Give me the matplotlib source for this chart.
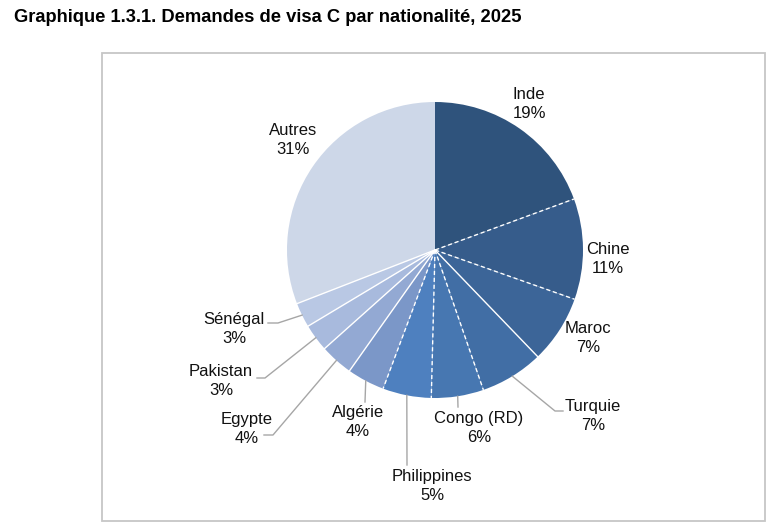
import matplotlib
matplotlib.use("Agg")
import matplotlib.pyplot as plt
import numpy as np
from matplotlib.patches import Rectangle

plt.rcParams['font.family'] = ['Liberation Sans', 'DejaVu Sans']

# data, clockwise from 12 o'clock
countries = ['Inde', 'Chine', 'Maroc', 'Turquie', 'Congo (RD)', 'Philippines',
             'Algérie', 'Egypte', 'Pakistan', 'Sénégal', 'Autres']
shares = [19.4, 11.0, 7.4, 6.9, 5.7, 5.3, 4.1, 3.6, 3.0, 2.7, 30.9]
colors = ['#2f537c', '#365c8b', '#3c6598', '#416ea5', '#4777b1', '#4e80bf',
          '#7b97c8', '#93a9d3', '#a8badd', '#b9c8e4', '#cdd7e8']

# white separators after each slice: '--', '-' or None
sep_style = ['--', '--', '-', '--', '--', '--', '-', '-', '-', '-', None]

# label centres and leader line points (pixels, y from top)
lab_xy = [(529, 104), (608, 259), (588, 338), (593, 416), (479, 428), (432, 486),
          (358, 422), (247, 429), (221, 381), (234, 329), (293, 140)]
leaders = {3: [(555, 411), (563, 411)],
           4: [(458, 407)],
           5: [(407, 465)],
           6: [(365, 402)],
           7: [(273, 435), (264, 435)],
           8: [(265, 378), (257, 378)],
           9: [(278, 323), (268, 323)]}

W, H = 768, 526
fig = plt.figure(figsize=(W / 100, H / 100), dpi=100)
ax = fig.add_axes([0, 0, 1, 1])

# frame of the chart area
ax.add_patch(Rectangle((101.5, H - 521), 663.5, 468.5, fill=False, ec='#c6c6c6', lw=1.3))

cx, cy, r = 435, H - 250, 148
wedges, _ = ax.pie(shares, colors=colors, startangle=90, counterclock=False,
                   center=(cx, cy), radius=r, frame=True,
                   wedgeprops=dict(linewidth=0))
ax.set_xlim(0, W)
ax.set_ylim(0, H)
ax.set_aspect('equal')
ax.axis('off')

# separators
cum = np.cumsum(shares) / sum(shares)
for c, st in zip(cum, sep_style):
    if st is None:
        continue
    a = np.deg2rad(90 - 360 * c)
    ax.plot([cx, cx + r * np.cos(a)], [cy, cy + r * np.sin(a)], color='white',
            lw=1.0, ls=st, dashes=(3, 2) if st == '--' else (None, None), zorder=3)

# labels
starts = np.concatenate([[0], cum[:-1]])
for i, (name, v) in enumerate(zip(countries, shares)):
    lx, ly = lab_xy[i]
    ax.text(lx, H - ly, f"{name}\n{v:.0f}%", ha='center', va='center',
            fontsize=12, color='#111111', linespacing=1.3, zorder=4)
    if i in leaders:
        mid = (starts[i] + cum[i]) / 2
        a = np.deg2rad(90 - 360 * mid)
        pts = [(cx + r * np.cos(a), cy + r * np.sin(a))]
        pts += [(px, H - py) for px, py in leaders[i]]
        xs, ys = zip(*pts)
        ax.plot(xs, ys, color='#a6a6a6', lw=1.0, zorder=2)

fig.text(14 / W, 1 - 17 / H, "Graphique 1.3.1. Demandes de visa C par nationalité, 2025",
         ha='left', va='center', fontsize=13.2, fontweight='bold')

fig.savefig('out.png', dpi=100)
